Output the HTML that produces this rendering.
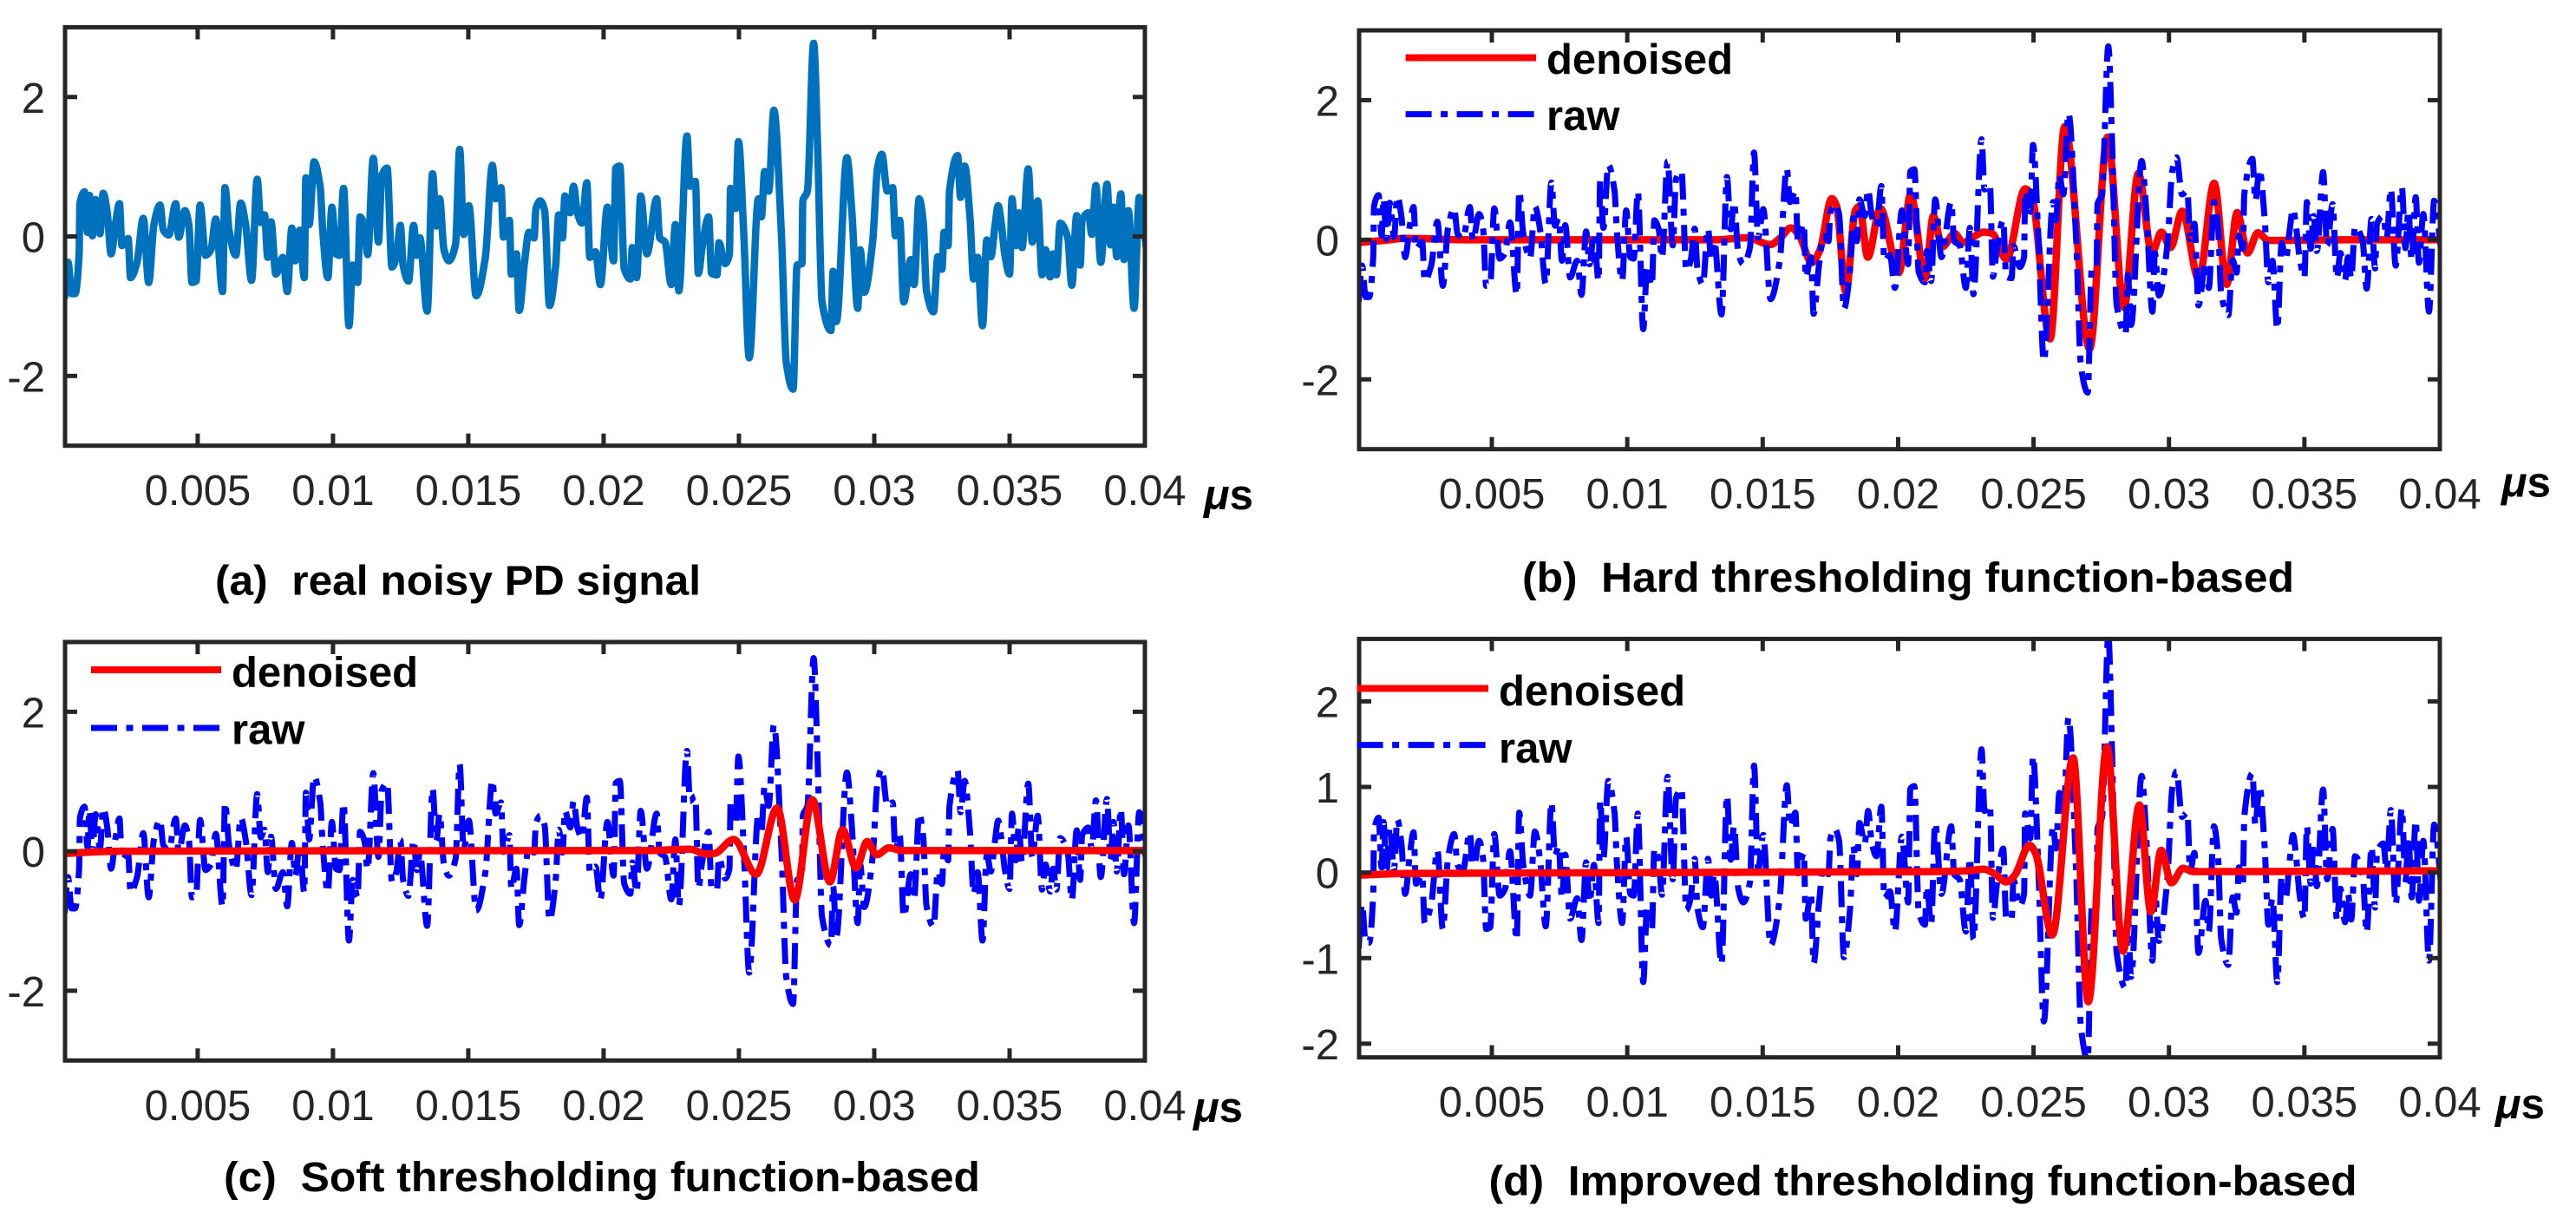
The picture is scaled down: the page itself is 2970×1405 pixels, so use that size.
<!DOCTYPE html>
<html lang="en">
<head>
<meta charset="utf-8">
<title>PD signal denoising comparison</title>
<style>
html,body{margin:0;padding:0;background:#fff;}
svg{display:block;font-family:"Liberation Sans",Arial,sans-serif;}
.tick-text{font-size:49px;fill:#262626;}
.caption{font-size:48.5px;font-weight:bold;fill:#000;}
.legend-text{font-size:49px;font-weight:bold;fill:#000;}
.unit{font-size:49px;font-weight:bold;fill:#000;}
.unit tspan{font-style:italic;}
</style>
</head>
<body>
<svg xmlns="http://www.w3.org/2000/svg" width="2970" height="1405" viewBox="0 0 2970 1405">
  <rect x="0" y="0" width="2970" height="1405" fill="#fff"/>
  <defs>
    <clipPath id="clip-a"><rect x="75" y="31.4" width="1245" height="482.3"/></clipPath>
    <clipPath id="clip-b"><rect x="1567" y="35" width="1246" height="482.7"/></clipPath>
    <clipPath id="clip-c"><rect x="75" y="740" width="1245" height="482.3"/></clipPath>
    <clipPath id="clip-d"><rect x="1567" y="736.4" width="1246" height="482.3"/></clipPath>
  </defs>

  <g id="panel-a">
    <g id="plot-a"></g>
    <g id="axes-a"></g>
    <text class="unit" x="1388" y="587"><tspan>μ</tspan>s</text>
    <text class="caption" x="248" y="685.7" textLength="560" lengthAdjust="spacingAndGlyphs">(a)&#160;&#160;real noisy PD signal</text>
  </g>

  <g id="panel-b">
    <g id="plot-b"></g>
    <g id="axes-b"></g>
    <g>
      <line x1="1620.6" y1="66.5" x2="1771" y2="66.5" stroke="#ff0000" stroke-width="8"/>
      <text class="legend-text" x="1783" y="85">denoised</text>
      <line x1="1620.6" y1="131.6" x2="1771" y2="131.6" stroke="#0000ff" stroke-width="7" stroke-dasharray="30 10.5 8 10.5"/>
      <text class="legend-text" x="1783" y="150">raw</text>
    </g>
    <text class="unit" x="2884" y="572.5"><tspan>μ</tspan>s</text>
    <text class="caption" x="1755" y="682" textLength="890" lengthAdjust="spacingAndGlyphs">(b)&#160;&#160;Hard thresholding function-based</text>
  </g>

  <g id="panel-c">
    <g id="plot-c"></g>
    <g id="axes-c"></g>
    <g>
      <line x1="105" y1="772" x2="255" y2="772" stroke="#ff0000" stroke-width="8"/>
      <text class="legend-text" x="267" y="791.7">denoised</text>
      <line x1="105" y1="839" x2="255" y2="839" stroke="#0000ff" stroke-width="7" stroke-dasharray="30 10.5 8 10.5"/>
      <text class="legend-text" x="267" y="857.7">raw</text>
    </g>
    <text class="unit" x="1376" y="1293"><tspan>μ</tspan>s</text>
    <text class="caption" x="258" y="1373" textLength="872" lengthAdjust="spacingAndGlyphs">(c)&#160;&#160;Soft thresholding function-based</text>
  </g>

  <g id="panel-d">
    <g id="plot-d"></g>
    <g id="axes-d"></g>
    <g>
      <line x1="1564.6" y1="793.5" x2="1716" y2="793.5" stroke="#ff0000" stroke-width="8"/>
      <text class="legend-text" x="1728" y="812.8">denoised</text>
      <line x1="1564.6" y1="858.6" x2="1716" y2="858.6" stroke="#0000ff" stroke-width="7" stroke-dasharray="30 10.5 8 10.5"/>
      <text class="legend-text" x="1728" y="879">raw</text>
    </g>
    <text class="unit" x="2877" y="1289"><tspan>μ</tspan>s</text>
    <text class="caption" x="1716.5" y="1377.7" textLength="1001" lengthAdjust="spacingAndGlyphs">(d)&#160;&#160;Improved thresholding function-based</text>
  </g>
</svg>

<script>
// Tick values and labels
const xTickValues = [0.005, 0.01, 0.015, 0.02, 0.025, 0.03, 0.035, 0.04];
const xTickLabels = ['0.005', '0.01', '0.015', '0.02', '0.025', '0.03', '0.035', '0.04'];
const yTicksCoarse = [-2, 0, 2];
const yLabelsCoarse = ['-2', '0', '2'];
const yTicksFine = [-2, -1, 0, 1, 2];
const yLabelsFine = ['-2', '-1', '0', '1', '2'];

// Raw noisy signal: time in nanoseconds, amplitude
const rawTimeNs = [
  0.08,0.21,0.34,0.47,0.62,0.65,0.82,0.93,1.00,1.11,
  1.23,1.39,1.51,1.66,1.80,1.97,2.11,2.20,2.43,2.52,
  2.76,2.99,3.19,3.38,3.61,3.73,3.93,4.19,4.30,4.53,
  4.68,4.79,4.94,5.09,5.29,5.49,5.67,5.92,6.01,6.16,
  6.41,6.59,6.78,6.99,7.20,7.33,7.47,7.59,7.71,7.89,
  8.15,8.31,8.48,8.61,8.77,8.94,9.00,9.12,9.30,9.53,
  9.62,9.81,9.96,10.11,10.24,10.39,10.59,10.73,10.91,11.00,
  11.16,11.28,11.49,11.68,11.80,12.00,12.18,12.34,12.49,12.59,
  12.79,12.98,13.10,13.21,13.48,13.68,13.82,13.94,14.10,14.28,
  14.53,14.68,14.83,15.02,15.29,15.63,15.89,16.01,16.21,16.30,
  16.52,16.59,16.78,16.88,17.08,17.24,17.43,17.50,17.66,17.82,
  18.00,18.23,18.34,18.48,18.57,18.77,18.89,19.03,19.20,19.38,
  19.49,19.70,19.88,20.14,20.37,20.45,20.60,20.76,20.99,21.06,
  21.22,21.37,21.60,
  21.96,22.07,22.27,22.50,22.65,22.78,23.08,23.19,23.39,23.50,
  23.65,23.88,23.99,24.19,24.26,24.49,24.65,24.69,24.88,24.98,
  25.18,25.38,25.72,25.83,25.95,26.10,26.29,26.57,26.75,27.00,
  27.15,27.33,27.36,27.53,27.76,27.91,28.07,28.40,28.48,28.60,
  28.99,29.17,29.39,29.48,29.63,29.94,30.12,30.28,30.48,30.68,
  30.78,30.94,31.09,31.35,31.47,31.66,31.81,31.93,32.19,32.35,
  32.50,32.58,32.73,32.78,33.08,33.19,33.34,33.54,33.67,33.82,
  34.00,34.16,34.31,34.46,34.58,34.69,34.82,35.00,35.09,35.23,
  35.34,35.46,35.69,35.84,36.04,36.20,36.33,36.50,36.61,36.73,
  36.87,37.15,37.30,37.48,37.61,37.68,37.91,38.04,38.19,38.37,
  38.60,38.73,38.84,38.96,39.11,39.23,39.39,39.60,39.79,40.06
];
const rawAmplitude = [
  -0.89,-0.37,-0.82,-0.82,-0.25,0.48,0.64,0.06,0.59,0.01,
  0.53,0.04,0.62,0.34,-0.25,0.20,0.47,-0.13,-0.03,-0.59,
  -0.37,0.26,-0.66,0.16,0.45,0.09,0.02,0.47,-0.01,0.37,
  0.15,-0.66,-0.64,0.45,-0.27,-0.19,0.25,-0.79,0.70,0.09,
  -0.27,0.48,0.15,-0.63,0.82,0.20,0.31,-0.30,0.21,-0.54,
  -0.30,-0.79,0.12,-0.35,0.09,-0.59,0.84,0.17,1.07,0.70,
  0.09,-0.59,0.42,-0.25,-0.27,0.69,-1.28,-0.41,-0.66,0.28,
  0.15,-0.26,1.12,-0.08,0.87,0.98,-0.44,-0.30,0.16,-0.41,
  -0.64,0.16,-0.27,-0.02,-1.07,0.90,0.15,0.54,-0.19,-0.35,
  -0.11,1.25,0.03,0.44,-0.85,-0.30,1.02,0.54,0.70,-0.01,
  0.23,-0.54,-0.25,-1.06,-0.36,0.06,-0.02,0.40,0.51,0.37,
  -0.99,-0.41,0.31,-0.02,0.58,0.34,0.72,0.34,0.19,0.77,
  -0.30,-0.22,-0.69,0.42,-0.35,0.98,1.01,-0.46,-0.61,-0.16,
  -0.59,0.58,-0.25,
  0.54,-0.02,-0.08,-0.69,0.17,-0.78,1.44,0.72,0.79,-0.53,
  -0.13,0.28,-0.53,-0.55,-0.09,-0.39,-0.25,0.69,0.40,1.36,
  0.03,-1.74,0.54,0.28,0.93,0.65,1.81,0.03,-1.81,-2.19,
  -0.41,-0.39,0.51,0.65,2.77,1.26,-0.94,-1.35,-0.50,-1.22,
  1.13,0.37,-1.03,-0.19,-0.80,-0.08,0.98,1.18,0.65,0.70,
  0.01,0.23,-0.94,-0.33,-0.69,0.54,0.20,-0.78,-1.08,-0.29,
  -0.47,0.06,-0.13,0.65,1.16,0.56,1.01,0.26,-0.61,-0.30,
  -1.28,-0.05,-0.29,0.15,0.44,0.20,-0.25,-0.54,0.54,-0.13,
  0.34,-0.16,0.97,-0.08,0.51,-0.55,-0.19,-0.58,-0.25,-0.55,
  0.19,-0.02,-0.70,0.30,-0.41,0.23,0.34,0.03,0.73,-0.37,
  0.75,-0.12,0.42,-0.29,0.61,-0.33,0.37,-1.03,0.56,-0.18
];

// Hard thresholding denoised series
const hardTimeNs = [0.09,1.01,1.78,4.08,10.2,13.3,14.43,15.28,15.66,16.04,16.35,16.81,17.12,17.55,17.73,18.07,18.42,18.57,18.88,19.34,20.03,20.46,21.0,21.3,21.63,22.09,22.39,23.16,23.47,24.0,24.69,24.92,25.61,26.15,27.07,27.73,28.34,28.87,29.37,29.72,30.06,30.49,31.1,31.67,32.13,32.52,32.9,33.28,33.67,36.35,40.0];
const hardAmplitude = [-0.04,-0.01,0.02,0,0,0,0.03,-0.07,0.03,0.17,0.06,-0.33,-0.14,0.59,0.48,-0.75,0.42,0.48,-0.25,0.45,-0.47,0.65,-0.55,0.34,-0.1,0.09,-0.04,0.11,0.09,-0.28,0.73,0.65,-1.42,1.62,-1.56,1.47,-0.97,0.95,-0.19,0.11,-0.11,0.41,-0.57,0.81,-0.64,0.39,-0.19,0.10,-0.01,0,0];

// Soft thresholding denoised series
const softTimeNs = [0.1,2.0,20.12,21.66,23.19,23.8,24.11,24.8,25.64,26.41,27.06,27.71,28.36,28.83,29.33,29.74,30.09,30.55,31.01,40.0];
const softAmplitude = [-0.03,0,0.01,0.01,0.03,-0.04,-0.03,0.17,-0.33,0.62,-0.7,0.74,-0.44,0.31,-0.24,0.14,-0.05,0.05,0.01,0.01];

// Improved thresholding denoised series
const improvedTimeNs = [0.09,2.0,21.0,22.55,23.16,23.54,24.0,24.31,24.85,25.08,25.69,26.46,27.02,27.71,28.3,28.91,29.33,29.71,30.09,30.52,30.9,40.0];
const improvedAmplitude = [-0.03,-0.01,0.01,0.02,0.04,-0.01,-0.11,-0.03,0.32,0.22,-0.73,1.34,-1.51,1.47,-0.92,0.79,-0.46,0.26,-0.12,0.05,0.01,0.02];

const SVG_NS = 'http://www.w3.org/2000/svg';
const X_MIN = 0.0001;
const X_MAX = 0.04;
const AXIS_COLOR = '#262626';

function svgEl(tag, attrs, parent) {
  const el = document.createElementNS(SVG_NS, tag);
  for (const key in attrs) el.setAttribute(key, attrs[key]);
  parent.appendChild(el);
  return el;
}

function makeX(layout) {
  return v => layout.left + (v - X_MIN) / (X_MAX - X_MIN) * (layout.right - layout.left);
}
function makeY(layout) {
  return v => layout.bottom - (v - layout.yMin) / (layout.yMax - layout.yMin) * (layout.bottom - layout.top);
}

// Monotone cubic through the read-off points so the curves keep rounded extrema
function smoothPath(times, values, x, y) {
  const px = times.map(t => x(t / 1000));
  const py = values.map(v => y(v));
  const n = px.length;
  const secants = [];
  for (let i = 0; i < n - 1; i++) secants.push((py[i + 1] - py[i]) / (px[i + 1] - px[i]));
  const slopes = [secants[0]];
  for (let i = 1; i < n - 1; i++) {
    const a = secants[i - 1];
    const b = secants[i];
    slopes.push(a * b <= 0 ? 0 : 2 * a * b / (a + b));
  }
  slopes.push(secants[n - 2]);
  let d = 'M' + px[0].toFixed(2) + ' ' + py[0].toFixed(2);
  for (let i = 0; i < n - 1; i++) {
    const dx = (px[i + 1] - px[i]) / 3;
    d += 'C' + (px[i] + dx).toFixed(2) + ' ' + (py[i] + slopes[i] * dx).toFixed(2) + ' ' +
      (px[i + 1] - dx).toFixed(2) + ' ' + (py[i + 1] - slopes[i + 1] * dx).toFixed(2) + ' ' +
      px[i + 1].toFixed(2) + ' ' + py[i + 1].toFixed(2);
  }
  return d;
}

function drawAxes(layout, x, y) {
  const g = document.getElementById('axes-' + layout.id);
  const tickLen = 14;
  xTickValues.forEach((v, i) => {
    const px = x(v);
    const bottomTick = svgEl('line', {x1: px, x2: px, y1: layout.bottom, y2: layout.bottom - tickLen, stroke: AXIS_COLOR, 'stroke-width': 5}, g);
    
    
    const topTick = svgEl('line', {x1: px, x2: px, y1: layout.top, y2: layout.top + tickLen, stroke: AXIS_COLOR, 'stroke-width': 5}, g);
    
    
    const label = svgEl('text', {x: px, y: layout.bottom + 68.5, 'text-anchor': 'middle', class: 'tick-text'}, g);
    
    
    label.textContent = xTickLabels[i];
  });
  layout.yTicks.forEach((v, i) => {
    const py = y(v);
    const leftTick = svgEl('line', {x1: layout.left, x2: layout.left + tickLen, y1: py, y2: py, stroke: AXIS_COLOR, 'stroke-width': 5}, g);
    
    
    const rightTick = svgEl('line', {x1: layout.right, x2: layout.right - tickLen, y1: py, y2: py, stroke: AXIS_COLOR, 'stroke-width': 5}, g);
    
    
    const label = svgEl('text', {x: layout.left - 23, y: py + 18, 'text-anchor': 'end', class: 'tick-text'}, g);
    
    
    label.textContent = layout.yLabels[i];
  });
  const box = svgEl('rect', {
    x: layout.left, y: layout.top,
    width: layout.right - layout.left, height: layout.bottom - layout.top,
    fill: 'none', stroke: AXIS_COLOR, 'stroke-width': 5
  }, g);
  
  
}

function drawRaw(layout, x, y, parent, solid) {
  const attrs = {
    d: smoothPath(rawTimeNs, rawAmplitude, x, y),
    fill: 'none',
    'stroke-linejoin': 'round',
    'clip-path': 'url(#clip-' + layout.id + ')'
  };
  if (solid) {
    attrs.stroke = '#0072BD';
    attrs['stroke-width'] = 8.5;
  } else {
    attrs.stroke = '#0000ff';
    attrs['stroke-width'] = 7;
    attrs['stroke-dasharray'] = '30 10.5 8 10.5';
  }
  const path = svgEl('path', attrs, parent);
  
  
}

function drawDenoised(layout, x, y, parent) {
  const path = svgEl('path', {
    d: smoothPath(layout.denoisedTime, layout.denoisedValues, x, y),
    fill: 'none', stroke: '#ff0000', 'stroke-width': 8.5, 'stroke-linejoin': 'round',
    'clip-path': 'url(#clip-' + layout.id + ')'
  }, parent);
  
  
}

const layouts = [
  {id: 'a', left: 75, right: 1320, top: 31.4, bottom: 513.7, yMin: -3, yMax: 3, yTicks: yTicksCoarse, yLabels: yLabelsCoarse},
  {id: 'b', left: 1567, right: 2813, top: 35, bottom: 517.7, yMin: -3, yMax: 3, yTicks: yTicksCoarse, yLabels: yLabelsCoarse, denoisedTime: hardTimeNs, denoisedValues: hardAmplitude, rawOnTop: true},
  {id: 'c', left: 75, right: 1320, top: 740, bottom: 1222.3, yMin: -3, yMax: 3, yTicks: yTicksCoarse, yLabels: yLabelsCoarse, denoisedTime: softTimeNs, denoisedValues: softAmplitude, rawOnTop: false},
  {id: 'd', left: 1567, right: 2813, top: 736.4, bottom: 1218.7, yMin: -2.16, yMax: 2.73, yTicks: yTicksFine, yLabels: yLabelsFine, denoisedTime: improvedTimeNs, denoisedValues: improvedAmplitude, rawOnTop: false}
];

layouts.forEach(layout => {
  const x = makeX(layout);
  const y = makeY(layout);
  const plot = document.getElementById('plot-' + layout.id);
  if (!layout.denoisedTime) {
    drawRaw(layout, x, y, plot, true);
  } else if (layout.rawOnTop) {
    drawDenoised(layout, x, y, plot);
    drawRaw(layout, x, y, plot, false);
  } else {
    drawRaw(layout, x, y, plot, false);
    drawDenoised(layout, x, y, plot);
  }
  drawAxes(layout, x, y);
});
</script>
</body>
</html>
